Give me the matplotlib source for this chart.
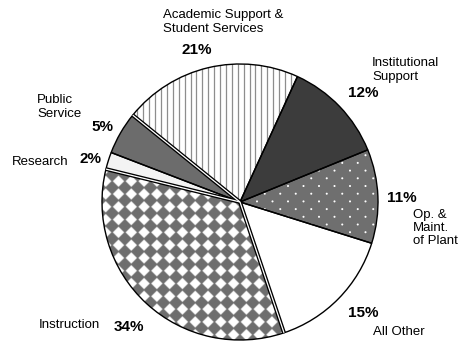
import numpy as np
import matplotlib
matplotlib.use("Agg")
import matplotlib.pyplot as plt

plt.rcParams['font.family'] = ['Liberation Sans', 'DejaVu Sans']

# spending shares, clockwise from the top
categories = ['Academic Support &\nStudent Services', 'Institutional\nSupport',
              'Op. &\nMaint.\nof Plant', 'All Other', 'Instruction',
              'Research', 'Public\nService']
shares = [21, 12, 11, 15, 34, 2, 5]
fills = ['white', '#3c3c3c', '#6f6f6f', 'white', 'white', '#f3f3f3', '#6c6c6c']

W, H = 461, 345
cx, cy, R = 240, 143, 138

fig = plt.figure(figsize=(W / 100, H / 100), dpi=100)
ax = fig.add_axes([0, 0, 1, 1])

wedges, _ = ax.pie(shares, startangle=141, counterclock=False, colors=fills,
                   center=(cx, cy), radius=R,
                   wedgeprops=dict(linewidth=0))

# vertical stripes
w = wedges[0]
xs = np.arange(cx - R, cx + R, 5.9)
ln = ax.vlines(xs, cy - R, cy + R, colors='#8d8d8d', linewidth=0.9, zorder=2)
ln.set_clip_path(w)

# white dots, staggered rows
w = wedges[2]
px, py = [], []
for i, yy in enumerate(np.arange(cy - R, cy + R, 7.7)):
    off = 7.75 if i % 2 else 0
    for xx in np.arange(cx - R + off, cx + R, 15.5):
        px.append(xx)
        py.append(yy)
dots = ax.scatter(px, py, s=2.2, c='white', edgecolors='none', zorder=2)
dots.set_clip_path(w)

# diamond checker
w = wedges[4]
p = 12.8
gx = np.linspace(cx - R, cx + R, 1100)
gy = np.linspace(cy - R, cy + R, 1100)
X, Y = np.meshgrid(gx, gy)
u = np.abs(np.mod(X - 112, p) - p / 2)
v = np.abs(np.mod(Y - 167, p) - p / 2)
d = u + v
a = np.clip((d - 0.41 * p) / (0.07 * p), 0, 1)
gray = np.array([0x6e, 0x6e, 0x6e]) / 255
img = np.empty(X.shape + (3,))
for k in range(3):
    img[..., k] = gray[k] * a + 1.0 * (1 - a)
im = ax.imshow(img, extent=(cx - R, cx + R, cy - R, cy + R), origin='upper',
               interpolation='bilinear', zorder=2)
im.set_clip_path(w)

# outline drawn above the textures
wo, _ = ax.pie(shares, startangle=141, counterclock=False, center=(cx, cy),
               radius=R, wedgeprops=dict(fill=False, edgecolor='black',
                                         linewidth=1.0, zorder=3))


def double_edge(theta):
    t = np.deg2rad(theta)
    xx = [cx, cx + R * np.cos(t)]
    yy = [cy, cy + R * np.sin(t)]
    ax.plot(xx, yy, color='black', linewidth=2.8, zorder=4,
            solid_capstyle='butt')
    ax.plot(xx, yy, color='white', linewidth=0.9, zorder=5,
            solid_capstyle='butt')


double_edge(wedges[4].theta1)
double_edge(wedges[4].theta2)
double_edge(wedges[0].theta2)

# name labels and percentages
name_pos = [(163, 323, 'left'), (372, 275, 'left'), (413, 117, 'left'),
            (373, 13, 'left'), (69, 20, 'center'), (40, 183, 'center'),
            (37, 238, 'left')]
pct_pos = [(197, 295), (363, 252), (402, 147), (363, 32), (129, 18),
           (90, 186), (102, 218)]

for name, (x, y, ha), v, (x2, y2) in zip(categories, name_pos, shares, pct_pos):
    ax.text(x, y, name, ha=ha, va='center', fontsize=9.5, linespacing=1.12)
    ax.text(x2, y2, f'{v}%', ha='center', va='center', fontsize=11,
            fontweight='bold')

ax.set_xlim(0, W)
ax.set_ylim(0, H)
ax.set_aspect('equal')
ax.axis('off')

fig.savefig('out.png', dpi=100)
